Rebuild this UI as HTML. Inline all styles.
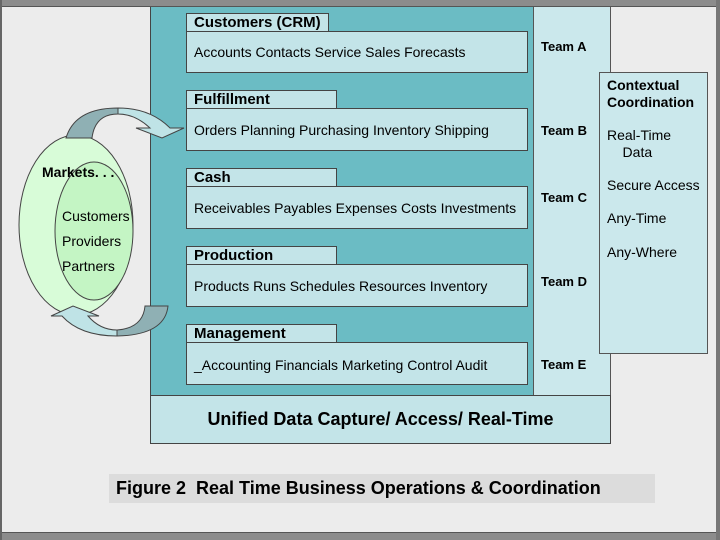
<!DOCTYPE html>
<html><head><style>
body{margin:0;width:720px;height:540px;position:relative;overflow:hidden;background:#ececec;font-family:"Liberation Sans",Arial,sans-serif;}
div{position:absolute;box-sizing:border-box;}
.tab{background:#c3e4e8;border:1px solid #444;font-weight:bold;font-size:15px;padding-left:7px;line-height:18px;}
.box{background:#c3e4e8;border:1px solid #444;font-size:14px;padding-left:7px;}
.team{font-weight:bold;font-size:13px;left:541px;}
.rp{font-size:14px;left:607px;}
</style></head><body>
<div style="left:0;top:0;width:720px;height:7px;background:#8c8c8c;border-bottom:1px solid #555"></div>
<div style="left:0;top:532px;width:720px;height:8px;background:#8c8c8c;border-top:1px solid #555"></div>
<div style="left:0;top:0;width:2px;height:540px;background:#666"></div>
<div style="left:716px;top:0;width:4px;height:540px;background:#777"></div>
<div style="left:150px;top:7px;width:384px;height:389px;background:#6bbcc4;border-left:1px solid #444;"></div>
<div style="left:533px;top:7px;width:78px;height:389px;background:#cbe8ec;border:1px solid #555;border-top:none"></div>
<div style="left:150px;top:395px;width:461px;height:49px;background:#c3e4e8;border:1px solid #444;font-weight:bold;font-size:18px;text-align:center;line-height:47px">Unified Data Capture/ Access/ Real-Time</div>
<div style="left:599px;top:72px;width:109px;height:282px;background:#cbe8ec;border:1px solid #555"></div>
<div class="rp" style="top:77px;font-weight:bold;line-height:17px">Contextual<br>Coordination</div>
<div class="rp" style="top:127px;line-height:17px">Real-Time<br>&nbsp;&nbsp;&nbsp;&nbsp;Data</div>
<div class="rp" style="top:177px">Secure Access</div>
<div class="rp" style="top:210px">Any-Time</div>
<div class="rp" style="top:244px">Any-Where</div>

<div class="tab" style="left:186px;top:13px;width:143px;height:19px">Customers (CRM)</div>
<div class="box" style="left:186px;top:31px;width:342px;height:42px;line-height:41px">Accounts Contacts Service Sales Forecasts</div>
<div class="tab" style="left:186px;top:90px;width:151px;height:19px">Fulfillment</div>
<div class="box" style="left:186px;top:108px;width:342px;height:43px;line-height:42px">Orders Planning Purchasing Inventory Shipping</div>
<div class="tab" style="left:186px;top:168px;width:151px;height:19px">Cash</div>
<div class="box" style="left:186px;top:186px;width:342px;height:43px;line-height:42px">Receivables Payables Expenses Costs Investments</div>
<div class="tab" style="left:186px;top:246px;width:151px;height:19px">Production</div>
<div class="box" style="left:186px;top:264px;width:342px;height:43px;line-height:42px">Products Runs Schedules Resources Inventory</div>
<div class="tab" style="left:186px;top:324px;width:151px;height:19px">Management</div>
<div class="box" style="left:186px;top:342px;width:342px;height:43px;line-height:45px">_Accounting Financials Marketing Control Audit</div>

<div class="team" style="top:39px">Team A</div>
<div class="team" style="top:123px">Team B</div>
<div class="team" style="top:190px">Team C</div>
<div class="team" style="top:274px">Team D</div>
<div class="team" style="top:357px">Team E</div>

<svg style="position:absolute;left:0;top:0" width="200" height="360">
<ellipse cx="76" cy="225" rx="57" ry="90" fill="#d8fcd8" stroke="#444" stroke-width="1"/>
<ellipse cx="94" cy="231" rx="39" ry="69" fill="#c4f5c4" stroke="#444" stroke-width="1"/>
<path d="M66,138 Q75,108 118,108 L118,114 Q95,114 92,138 Z" fill="#8fb0b4" stroke="#444"/>
<path d="M118,108 Q150,108 170,128 L184,128 L162,138 L136,128 L150,128 Q135,114 118,114 Z" fill="#bfe3e6" stroke="#444"/>
<path d="M168,306 Q165,335 117,336 L117,330 Q143,328 145,306 Z" fill="#8fb0b4" stroke="#444"/>
<path d="M117,336 Q80,336 62,316 L51,316 L73,306 L99,316 L88,316 Q100,330 117,330 Z" fill="#bfe3e6" stroke="#444"/>
</svg>
<div style="left:42px;top:164px;font-weight:bold;font-size:14px">Markets. . .</div>
<div style="left:62px;top:208px;font-size:14px">Customers</div>
<div style="left:62px;top:233px;font-size:14px">Providers</div>
<div style="left:62px;top:258px;font-size:14px">Partners</div>

<div style="left:109px;top:474px;width:546px;height:29px;background:#dcdcdc;font-weight:bold;font-size:18px;line-height:29px;padding-left:7px">Figure 2&nbsp; Real Time Business Operations &amp; Coordination</div>
</body></html>
